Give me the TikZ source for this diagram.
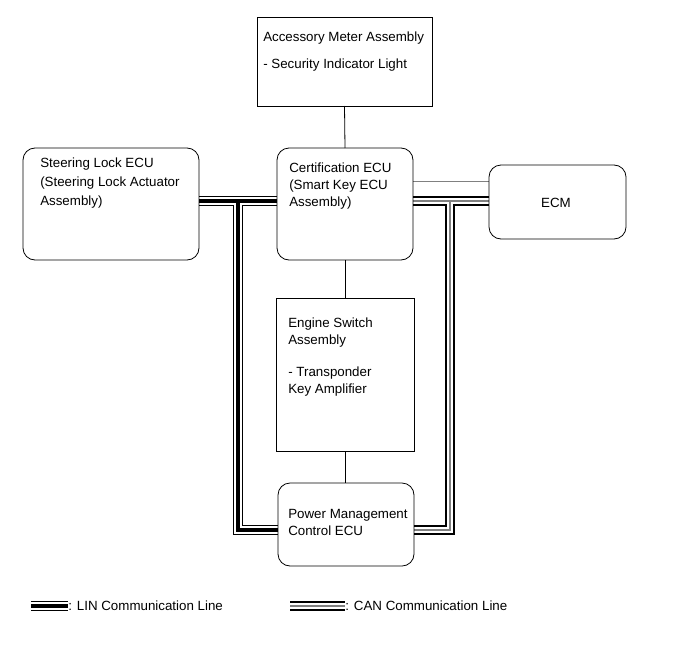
\documentclass[tikz,border=0pt]{standalone}
\usepackage{fontspec}
\setmainfont{Liberation Sans}
\usetikzlibrary{backgrounds}

\tikzset{
	ecubox/.style={draw, rounded corners=9pt, line width=0.6pt, inner sep=0pt, outer sep=0pt},
	plainbox/.style={draw, line width=0.6pt, inner sep=0pt, outer sep=0pt},
	boxtext/.style={anchor=north west, align=left, inner sep=0pt, font=\fontsize{10pt}{12.75pt}\selectfont},
	keytext/.style={anchor=west, inner sep=0pt, font=\fontsize{10pt}{12.75pt}\selectfont},
	wire/.style={line width=0.6pt},
}

\begin{document}
\begin{tikzpicture}[x=0.75pt,y=-0.75pt]
	\useasboundingbox (0,0) rectangle (691,660);
	
	% Boxes
	\node[plainbox, minimum width=131.25pt, minimum height=66.75pt] (meter) at (344.5,61.5) {};
	\node[ecubox, minimum width=132pt, minimum height=84pt] (steer) at (111,204) {};
	\node[ecubox, minimum width=102pt, minimum height=84pt] (cert) at (345,204) {};
	\node[ecubox, minimum width=102.75pt, minimum height=55.5pt] (ecm) at (557.5,202) {};
	\node[plainbox, minimum width=103.5pt, minimum height=114.75pt] (engine) at (345,374.5) {};
	\node[ecubox, minimum width=102pt, minimum height=62.25pt] (pmc) at (346,524.5) {};
	
	% Texts
	\node[boxtext] (metertxt) at (263,32) {Accessory Meter Assembly\\[7.5pt]- Security Indicator Light};
	\node[boxtext, font=\fontsize{10pt}{14.25pt}\selectfont] (steertxt) at (40,158) {Steering Lock ECU\\(Steering Lock Actuator\\Assembly)};
	\node[boxtext] (certtxt) at (289,163) {Certification ECU\\(Smart Key ECU\\Assembly)};
	\node[font=\fontsize{10pt}{12.75pt}\selectfont, inner sep=0pt] (ecmtxt) at (556,203) {ECM};
	\node[boxtext] (enginetxt) at (288,318) {Engine Switch\\Assembly\\[11.25pt]- Transponder\\Key Amplifier};
	\node[boxtext] (pmctxt) at (288,509) {Power Management\\Control ECU};
	
	% Legend
	\node[keytext] (lintxt) at (68,606) {: LIN Communication Line};
	\node[keytext] (cantxt) at (345,606) {: CAN Communication Line};
	\coordinate (linkey) at (31,606);
	\coordinate (cankey) at (290,606);
	
	% Rows and forks of the bus lines
	\coordinate (topwire) at (0,181);
	\coordinate (linrow) at (0,201);
	\coordinate (linfork) at (238,201);
	\coordinate (linbot) at (0,530);
	\coordinate (canrow) at (0,201);
	\coordinate (canfork) at (450,201);
	\coordinate (canbot) at (0,530);
	
	\begin{scope}[on background layer]
		% Plain wires
		\draw[wire] (meter.south) -- (cert.north);
		\draw[wire] (cert.south) -- (engine.north);
		\draw[wire] (engine.south) -- (engine.south |- pmc.north);
		\draw[wire, gray] (cert.east |- topwire) -- (ecm.west |- topwire);
		
		% LIN
		\foreach \w/\c in {10/black, 8/white, 4.5/black}
			\draw[line width=\w*0.75pt, color=\c] (steer.east |- linrow) -- (cert.west |- linrow)
				(linfork) |- (pmc.west |- linbot)
				(linkey) -- (lintxt.west);
		
		% CAN
		\foreach \w/\c in {10/black, 6/white, 1.5/gray}
			\draw[line width=\w*0.75pt, color=\c] (cert.east |- canrow) -- (ecm.west |- canrow)
				(canfork) |- (pmc.east |- canbot)
				(cankey) -- (cantxt.west);
	\end{scope}
	
\end{tikzpicture}
\end{document}
